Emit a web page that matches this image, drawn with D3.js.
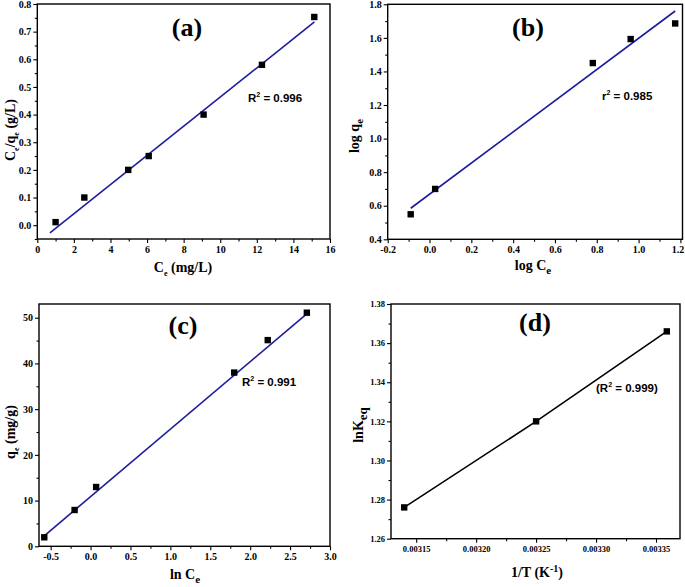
<!DOCTYPE html>
<html><head><meta charset="utf-8">
<script src="https://cdn.jsdelivr.net/npm/d3@7"></script>
<style>body{margin:0;background:#fff}svg{display:block}</style>
</head><body>
<svg id="chart" width="685" height="587"></svg>
<script>
// ---- data ----
// (a) Langmuir
const aX = [1.0, 2.57, 4.97, 6.09, 9.09, 12.28, 15.14];
const aY = [0.011, 0.10, 0.20, 0.25, 0.40, 0.58, 0.753];
const aFitX = [0.69, 15.15];
const aFitY = [-0.028, 0.735];
const aXTicks = [0, 2, 4, 6, 8, 10, 12, 14, 16];
const aYTicks = [0.0, 0.1, 0.2, 0.3, 0.4, 0.5, 0.6, 0.7, 0.8];
// (b) Freundlich
const bX = [-0.09, 0.027, 0.781, 0.962, 1.175];
const bY = [0.549, 0.70, 1.45, 1.593, 1.686];
const bFitX = [-0.09, 1.175];
const bFitY = [0.585, 1.76];
const bXTicks = [-0.2, 0.0, 0.2, 0.4, 0.6, 0.8, 1.0, 1.2];
const bYTicks = [0.4, 0.6, 0.8, 1.0, 1.2, 1.4, 1.6, 1.8];
// (c) Temkin
const cX = [-0.58, -0.2, 0.07, 1.8, 2.22, 2.71];
const cY = [1.97, 7.94, 12.97, 38.0, 45.1, 51.1];
const cFitX = [-0.58, 2.72];
const cFitY = [2.3, 51.0];
const cXTicks = [-0.5, 0.0, 0.5, 1.0, 1.5, 2.0, 2.5, 3.0];
const cYTicks = [0, 10, 20, 30, 40, 50];
// (d) Van't Hoff
const dX = [0.00314, 0.00325, 0.003359];
const dY = [1.276, 1.320, 1.366];
const dXTicks = [0.00315, 0.00320, 0.00325, 0.00330, 0.00335];
const dYTicks = [1.26, 1.28, 1.30, 1.32, 1.34, 1.36, 1.38];

const svg = d3.select('#chart');
const SERIF = '"Liberation Serif","Times New Roman",serif';
const SANS = '"Liberation Sans",Arial,sans-serif';
const BLUE = '#1c1c9c';
const hy = f => (d => f(d).replace('\u2212', '-'));

function richText(g, x, y, parts, opts) {
  const t = g.append('text')
    .attr('font-family', opts.family)
    .attr('font-weight', 'bold')
    .attr('font-size', opts.size)
    .attr('text-anchor', opts.anchor || 'start')
    .attr('fill', '#000');
  if (opts.rotate) t.attr('transform', `translate(${x},${y}) rotate(-90)`);
  else t.attr('x', x).attr('y', y);
  let shift = 0;
  parts.forEach(p => {
    const [s, kind, sz] = p;
    const ts = t.append('tspan').text(s);
    let target = 0;
    if (kind === 'sub') { target = opts.subDy || 4; ts.attr('font-size', sz || opts.size * 0.6); }
    else if (kind === 'sup') { target = -(opts.supDy || 5); ts.attr('font-size', sz || opts.size * 0.6); }
    if (target - shift !== 0) ts.attr('dy', target - shift);
    shift = target;
  });
  return t;
}

function panel(cfg) {
  const g = svg.append('g');
  const x = d3.scaleLinear().domain(cfg.xDom).range([cfg.box.l, cfg.box.r]);
  const y = d3.scaleLinear().domain(cfg.yDom).range([cfg.box.b, cfg.box.t]);

  const minors = (ticks, step, dom) => {
    const out = [];
    ticks.forEach(v => {
      [v - step / 2, v + step / 2].forEach(m => {
        if (m >= dom[0] && m <= dom[1] && !out.some(q => Math.abs(q - m) < step * 1e-6)) out.push(m);
      });
    });
    return out;
  };
  const xMinor = minors(cfg.xTicks, cfg.xStep, cfg.xDom);
  const yMinor = minors(cfg.yTicks, cfg.yStep, cfg.yDom);

  const xAxis = g.append('g').attr('transform', `translate(0,${cfg.box.b})`)
    .call(d3.axisBottom(x).tickValues(cfg.xTicks).tickFormat(cfg.xFmt).tickSize(4).tickPadding(3));
  g.append('g').attr('transform', `translate(0,${cfg.box.b})`)
    .call(d3.axisBottom(x).tickValues(xMinor).tickFormat('').tickSize(2.5))
    .call(s => s.select('.domain').remove());
  const yAxis = g.append('g').attr('transform', `translate(${cfg.box.l},0)`)
    .call(d3.axisLeft(y).tickValues(cfg.yTicks).tickFormat(cfg.yFmt).tickSize(4).tickPadding(2));
  g.append('g').attr('transform', `translate(${cfg.box.l},0)`)
    .call(d3.axisLeft(y).tickValues(yMinor).tickFormat('').tickSize(2.5))
    .call(s => s.select('.domain').remove());
  [xAxis, yAxis].forEach(a => {
    a.select('.domain').remove();
    a.selectAll('text').attr('font-family', SERIF).attr('font-weight', 'bold')
      .attr('font-size', cfg.tickSize).attr('fill', '#000');
  });
  if (cfg.lastXShift) {
    xAxis.selectAll('.tick text').filter((d, i, n) => i === n.length - 1).attr('dx', cfg.lastXShift);
  }
  g.selectAll('.tick line').attr('stroke', '#000').attr('stroke-width', 1.1);

  // frame
  g.append('rect').attr('x', cfg.box.l).attr('y', cfg.box.t)
    .attr('width', cfg.box.r - cfg.box.l).attr('height', cfg.box.b - cfg.box.t)
    .attr('fill', 'none').attr('stroke', '#000').attr('stroke-width', 1.4);

  // fit line
  const line = d3.line().x(d => x(d[0])).y(d => y(d[1]));
  g.append('path').datum(cfg.fit)
    .attr('d', line).attr('fill', 'none').attr('stroke', cfg.lineColor).attr('stroke-width', 1.6);

  // points
  g.selectAll('rect.pt').data(cfg.pts).enter().append('rect')
    .attr('class', 'pt')
    .attr('x', d => x(d[0]) - 3.2).attr('y', d => y(d[1]) - 3.2)
    .attr('width', 6.4).attr('height', 6.4).attr('fill', '#000');

  // panel label
  g.append('text').attr('x', cfg.label.x).attr('y', cfg.label.y)
    .attr('text-anchor', 'middle').attr('font-family', SERIF).attr('font-weight', 'bold')
    .attr('font-size', 26).attr('fill', '#000').text(cfg.label.t);

  // R2
  richText(g, cfg.r2.x, cfg.r2.y, cfg.r2.parts, { family: SANS, size: 11.5, supDy: 5 });

  // axis titles
  richText(g, cfg.xt.x, cfg.xt.y, cfg.xt.parts, { family: SERIF, size: 14, anchor: 'middle', subDy: cfg.xt.subDy || 4, supDy: 5 });
  richText(g, cfg.yt.x, cfg.yt.y, cfg.yt.parts, { family: SERIF, size: 14, anchor: 'middle', rotate: true, subDy: cfg.yt.subDy || 4 });
}

const zip = (a, b) => a.map((v, i) => [v, b[i]]);

panel({
  box: { l: 37.3, r: 330, t: 4, b: 239 },
  xDom: [0, 16], yDom: [-0.05, 0.8],
  xTicks: aXTicks, yTicks: aYTicks, xStep: 2, yStep: 0.1,
  xFmt: d3.format('d'), yFmt: d3.format('.1f'), tickSize: 10,
  pts: zip(aX, aY), fit: zip(aFitX, aFitY), lineColor: BLUE,
  label: { x: 187, y: 36, t: '(a)' },
  r2: { x: 248, y: 102, parts: [['R'], ['2', 'sup', 7], [' = 0.996']] },
  xt: { x: 183, y: 272, parts: [['C'], ['e', 'sub', 8], [' (mg/L)']] },
  yt: { x: 15, y: 130, parts: [['C'], ['e', 'sub', 8], ['/q'], ['e', 'sub', 8], [' (g/L)']] }
});

panel({
  box: { l: 387.7, r: 682.5, t: 4.3, b: 239.3 },
  xDom: [-0.2, 1.21], yDom: [0.4, 1.8],
  xTicks: bXTicks, yTicks: bYTicks, xStep: 0.2, yStep: 0.2,
  xFmt: hy(d3.format('.1f')), yFmt: d3.format('.1f'), tickSize: 10,
  lastXShift: -3,
  pts: zip(bX, bY), fit: zip(bFitX, bFitY), lineColor: BLUE,
  label: { x: 528, y: 36, t: '(b)' },
  r2: { x: 602, y: 100, parts: [['r'], ['2', 'sup', 7], [' = 0.985']] },
  xt: { x: 533, y: 270, parts: [['log C'], ['e', 'sub', 11]] },
  yt: { x: 359, y: 136, parts: [['log q'], ['e', 'sub', 11]] }
});

panel({
  box: { l: 39, r: 330, t: 304, b: 546.3 },
  xDom: [-0.646, 3.0], yDom: [0, 53],
  xTicks: cXTicks, yTicks: cYTicks, xStep: 0.5, yStep: 10,
  xFmt: hy(d3.format('.1f')), yFmt: d3.format('d'), tickSize: 10,
  pts: zip(cX, cY), fit: zip(cFitX, cFitY), lineColor: BLUE,
  label: { x: 183, y: 334, t: '(c)' },
  r2: { x: 242, y: 386, parts: [['R'], ['2', 'sup', 7], [' = 0.991']] },
  xt: { x: 185, y: 579, parts: [['ln C'], ['e', 'sub', 11]] },
  yt: { x: 15, y: 432, parts: [['q'], ['e', 'sub', 8], [' (mg/g)']] }
});

panel({
  box: { l: 391, r: 680, t: 304, b: 538.7 },
  xDom: [0.003129, 0.00337], yDom: [1.26, 1.38],
  xTicks: dXTicks, yTicks: dYTicks, xStep: 0.00005, yStep: 0.02,
  xFmt: d3.format('.5f'), yFmt: d3.format('.2f'), tickSize: 8.5,
  pts: zip(dX, dY), fit: zip(dX, dY), lineColor: '#000',
  label: { x: 535, y: 331, t: '(d)' },
  r2: { x: 596, y: 392, parts: [['(R'], ['2', 'sup', 7], [' = 0.999)']] },
  xt: { x: 537, y: 577, parts: [['1/T (K'], ['-1', 'sup', 10], [')']] },
  yt: { x: 363, y: 425, parts: [['lnK'], ['eq', 'sub', 13]] }
});
</script>
</body></html>
